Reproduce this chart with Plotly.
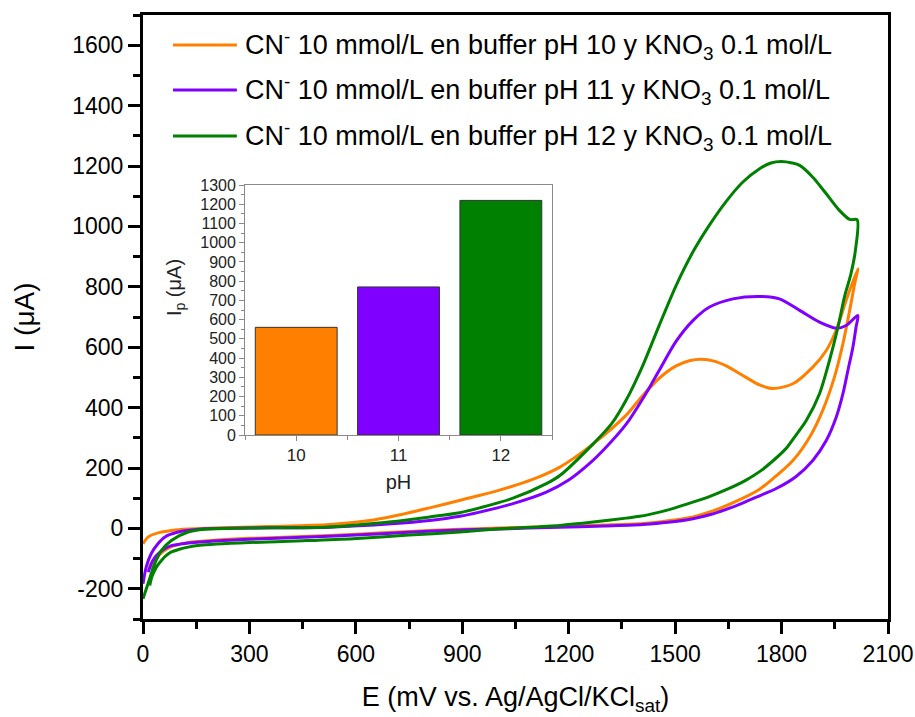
import plotly.graph_objects as go

# Cyclic voltammograms, E in mV vs Ag/AgCl/KCl(sat), I in uA
# forward sweep then reverse sweep
e_ph10 = [0, 14, 42, 80, 127, 200, 350, 527, 650, 725, 808, 900, 1000, 1100, 1175, 1269, 1362, 1400,
          1456, 1503, 1540, 1574, 1610, 1644, 1700, 1738, 1776, 1832, 1888, 1926, 1954, 1982, 2015,
          2006, 1992, 1973, 1949, 1916, 1879, 1832, 1776, 1738, 1691, 1644, 1600, 1550, 1480, 1409,
          1300, 1175, 1000, 893, 750, 600, 450, 300, 200, 160, 127, 100, 75, 55, 40, 30, 25]
i_ph10 = [-51, -29, -15, -7, -2, 1, 6, 13, 28, 45, 68, 95, 125, 163, 203, 280, 375, 428,
          498, 538, 555, 560, 554, 538, 500, 475, 463, 479, 534, 589, 656, 755, 860,
          810, 722, 612, 501, 391, 302, 225, 165, 130, 100, 75, 55, 38, 25, 16,
          11, 7, 1, -3, -10, -19, -27, -33, -39, -43, -47, -53, -63, -78, -97, -118, -135]

e_ph11 = [0, 9, 23, 42, 61, 99, 174, 350, 527, 700, 808, 893, 949, 1043, 1137, 1200, 1259, 1300,
          1362, 1409, 1438, 1456, 1503, 1550, 1597, 1663, 1738, 1794, 1851, 1907, 1954, 1982, 2015,
          2010, 2001, 1987, 1973, 1954, 1926, 1888, 1841, 1785, 1738, 1690, 1644, 1600, 1550, 1480,
          1409, 1300, 1175, 1000, 893, 750, 600, 450, 300, 200, 160, 127, 100, 80, 60, 45, 33, 22, 15]
i_ph11 = [-183, -128, -84, -51, -29, -12, -1, 2, 4, 15, 26, 40, 54, 82, 120, 160, 215, 262,
          345, 430, 488, 525, 620, 688, 733, 760, 768, 760, 722, 683, 663, 672, 705,
          667, 600, 523, 446, 368, 291, 225, 172, 132, 108, 84, 63, 46, 32, 20,
          13, 8, 4, -2, -5, -13, -22, -29, -36, -42, -45, -48, -53, -57, -68, -82, -97, -120, -145]

e_ph12 = [0, 14, 33, 52, 80, 127, 174, 300, 527, 700, 808, 893, 949, 1043, 1137, 1175, 1269, 1320,
          1362, 1409, 1456, 1503, 1550, 1597, 1644, 1691, 1738, 1770, 1799, 1830, 1851, 1888, 1926,
          1963, 1992, 2013,
          2008, 1995, 1978, 1959, 1935, 1907, 1870, 1832, 1813, 1757, 1738, 1700, 1644, 1600, 1550,
          1500, 1456, 1400, 1362, 1269, 1175, 1000, 893, 750, 592, 450, 300, 160, 127, 100, 80, 65,
          52, 40, 33, 25, 19]
i_ph12 = [-233, -183, -117, -73, -40, -12, -3, 1, 5, 22, 38, 52, 68, 100, 148, 175, 280, 345,
          425, 540, 675, 805, 915, 1005, 1083, 1147, 1191, 1210, 1215, 1210, 1202, 1163, 1108,
          1053, 1023, 1022,
          920, 840, 770, 667, 556, 446, 358, 295, 265, 205, 188, 160, 128, 107, 87,
          68, 54, 40, 34, 21, 10, -2, -12, -22, -34, -41, -47, -56, -62, -70, -78, -90,
          -106, -124, -139, -160, -189]

# Inset: peak current vs pH
ph = [10, 11, 12]
ip = [560, 770, 1220]

# tick labels (plain hyphen minus as in the original)
y_ticks = [-200, 0, 200, 400, 600, 800, 1000, 1200, 1400, 1600]
y_ticktext = ["-200", "0", "200", "400", "600", "800", "1000", "1200", "1400", "1600"]

colors = ["#FF8000", "#8000FF", "#008000"]
labels = [
    "CN<sup>-</sup> 10 mmol/L en buffer pH 10 y KNO<sub>3</sub> 0.1 mol/L",
    "CN<sup>-</sup> 10 mmol/L en buffer pH 11 y KNO<sub>3</sub> 0.1 mol/L",
    "CN<sup>-</sup> 10 mmol/L en buffer pH 12 y KNO<sub>3</sub> 0.1 mol/L",
]
font = "Liberation Sans, Arial, sans-serif"

fig = go.Figure()
for e, i, c, name in zip([e_ph10, e_ph11, e_ph12], [i_ph10, i_ph11, i_ph12], colors, labels):
    fig.add_trace(go.Scatter(x=e, y=i, mode="lines", name=name,
                             line=dict(color=c, width=3, shape="spline", smoothing=0.8),
                             showlegend=False))

fig.add_trace(go.Bar(x=ph, y=ip, marker=dict(color=colors, line=dict(color="#333333", width=1)),
                     width=0.8, xaxis="x2", yaxis="y2", showlegend=False))

# legend drawn by hand so the line samples are as long as in the original
leg_y = [0.9503, 0.8758, 0.7997]
for y, c, name in zip(leg_y, colors, labels):
    fig.add_shape(type="line", xref="paper", yref="paper", x0=0.0403, x1=0.126, y0=y, y1=y,
                  line=dict(color=c, width=3))
    fig.add_annotation(xref="paper", yref="paper", x=0.1342, y=y, text=name, showarrow=False,
                       xanchor="left", yanchor="middle", font=dict(size=27, color="black"))

# inset y title sits a bit above the middle of the inset in the original
fig.add_annotation(xref="paper", yref="paper", x=0.043, y=0.548, text="I<sub>p</sub> (μA)",
                   textangle=-90, showarrow=False, xanchor="center", yanchor="middle",
                   font=dict(size=20, color="#222222"))

fig.update_layout(
    width=915, height=717,
    margin=dict(l=143, r=27, t=15, b=98),
    paper_bgcolor="white", plot_bgcolor="white",
    font=dict(family=font, color="black"),
    xaxis=dict(range=[0, 2100], tick0=0, dtick=300, showline=True, linecolor="black", linewidth=3,
               mirror=True, ticks="outside", ticklen=12, tickwidth=2.5, tickcolor="black",
               minor=dict(ticks="outside", dtick=150, ticklen=7, tickwidth=2.5, tickcolor="black"),
               showgrid=False, zeroline=False, tickfont=dict(size=23), automargin=False,
               title=dict(text="E (mV vs. Ag/AgCl/KCl<sub>sat</sub>)", font=dict(size=27), standoff=22)),
    yaxis=dict(range=[-300, 1700], tickvals=y_ticks, ticktext=y_ticktext, showline=True,
               linecolor="black", linewidth=3,
               mirror=True, ticks="outside", ticklen=12, tickwidth=2.5, tickcolor="black",
               minor=dict(ticks="outside", tick0=0, dtick=100, ticklen=7, tickwidth=2.5, tickcolor="black"),
               showgrid=False, zeroline=False, tickfont=dict(size=23), automargin=False,
               title=dict(text="I (μA)", font=dict(size=28), standoff=30)),
    xaxis2=dict(domain=[0.137, 0.549], anchor="y2", range=[9.5, 12.5], tickvals=ph,
                showline=True, linecolor="#8a8a8a", linewidth=1, mirror=True,
                ticks="outside", ticklen=5, tickcolor="#8a8a8a",
                minor=dict(ticks="outside", tick0=9.5, dtick=1, ticklen=4, tickcolor="#8a8a8a"),
                showgrid=False, zeroline=False, tickfont=dict(size=17, color="#222222"), automargin=False,
                title=dict(text="pH", font=dict(size=20, color="#222222"), standoff=10)),
    yaxis2=dict(domain=[0.3046, 0.7185], anchor="x2", range=[0, 1300], dtick=100,
                showline=True, linecolor="#8a8a8a", linewidth=1, mirror=True,
                ticks="outside", ticklen=5, tickcolor="#8a8a8a",
                minor=dict(ticks="outside", dtick=50, ticklen=3, tickcolor="#8a8a8a"),
                showgrid=False, zeroline=False, tickfont=dict(size=16, color="#222222"), automargin=False),
)

# drop the browser's default 8px body margin so the figure sits at the page origin
fig.write_html("out.html", config={"displayModeBar": False},
               post_script="document.body.style.margin='0';")
